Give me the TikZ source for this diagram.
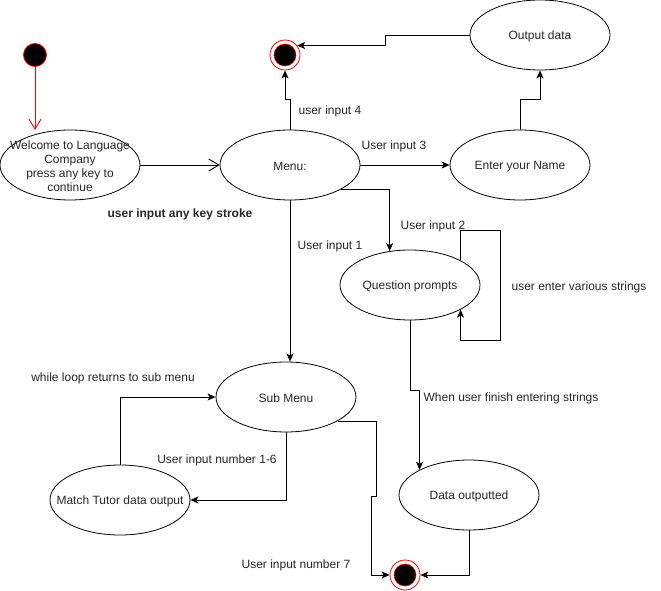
\documentclass[tikz,border=0pt]{standalone}
\usepackage{fontspec}
\setmainfont{Liberation Sans}
\usetikzlibrary{arrows.meta,shapes.geometric}

\begin{document}
\begin{tikzpicture}[x=1pt,y=-1pt,
  every node/.style={font=\fontsize{12}{14}\selectfont},
  stnode/.style={draw, ellipse, minimum width=140pt, minimum height=70pt, inner sep=0pt, line width=0.8pt},
  lbl/.style={text=black!85, inner sep=0pt, yshift=-1.2pt},
  flow/.style={line width=0.9pt, -{Stealth[length=8pt,width=7pt,inset=2pt]}},
  openflow/.style={line width=0.9pt, -{Straight Barb[length=10pt,width=12pt]}},
  startdot/.style={circle, draw=red, fill=black, minimum size=23pt, inner sep=0pt, line width=0.8pt},
  endring/.style={circle, draw=red, minimum size=30pt, inner sep=0pt, line width=0.8pt},
  enddot/.style={circle, draw=red, fill=black, minimum size=22pt, inner sep=0pt, line width=0.6pt},
]
\useasboundingbox (0,0) rectangle (661,591);

% states
\node[stnode] (welcome) at (70,165) {};
\node[lbl, align=center] (welcometext) at (welcome) {Welcome to Language\\Company\\press any key to\\continue};
\node[stnode] (menu) at (290,165) {};
\node[lbl] (menutext) at (menu) {Menu:};
\node[stnode] (ename) at (520,165) {};
\node[lbl] (enametext) at (ename) {Enter your Name};
\node[stnode] (output) at (540,35) {};
\node[lbl] (outputtext) at (output) {Output data};
\node[stnode] (qp) at (410,285) {};
\node[lbl] (qptext) at (qp) {Question prompts};
\node[stnode] (sub) at (286,397) {};
\node[lbl] (subtext) at (sub) {Sub Menu};
\node[stnode] (match) at (120,500) {};
\node[lbl] (matchtext) at (match) {Match Tutor data output};
\node[stnode] (data) at (469,495) {};
\node[lbl] (datatext) at (data) {Data outputted};

% initial and final states
\node[startdot] (start) at (35,55) {};
\node[endring] (end1) at (285,55) {};
\node[enddot] (end1dot) at (end1) {};
\node[endring] (end2) at (405,575) {};
\node[enddot] (end2dot) at (end2) {};

% connectors
\coordinate (welcomein) at (35,130);
\draw[openflow, red] (start.south) -- (welcomein);
\draw[openflow] (welcome.east) -- (menu.west);
\draw[flow] (menu.north) -- ++(0,-30) -| (end1.south);
\draw[flow] (output.west) -- ++(-84,0) |- (end1.38);
\draw[flow] (menu.east) -- (ename.west);
\draw[flow] (ename.north) -- ++(0,-30) -| (output.south);
\draw[flow] (menu.-26) -| (qp.121);
\draw[flow] (qp.26) |- (500,230) -- (500,340) -| (qp.-26);
\draw[flow] (menu.south) -- (menu.south |- sub.north);
\draw[flow] (sub.south) |- (match.east);
\draw[flow] (match.north) |- (sub.west);
\draw[flow] (sub.-25) -| (376,496) -- (371,496) |- (end2.west);
\draw[flow] (qp.south) -- (410,390) -| (data.153);
\draw[flow] (data.south) |- (end2.east);

% transition labels
\node[lbl, font=\fontsize{12}{14}\selectfont\bfseries] (lkey) at (180,213) {user input any key stroke};
\node[lbl] (l4) at (330,110) {user input 4};
\node[lbl] (l3) at (394,145) {User input 3};
\node[lbl] (l2) at (433,225) {User input 2};
\node[lbl] (l1) at (330,245) {User input 1};
\node[lbl] (lstr) at (579,286) {user enter various strings};
\node[lbl] (lfin) at (511,397) {When user finish entering strings};
\node[lbl] (lloop) at (113,377) {while loop returns to sub menu};
\node[lbl] (l16) at (217,459) {User input number 1-6};
\node[lbl] (l7) at (296,564) {User input number 7};
\end{tikzpicture}
\end{document}
